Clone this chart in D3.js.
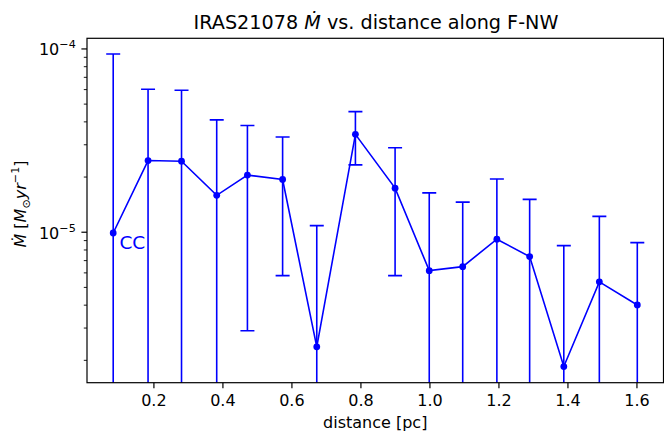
<!DOCTYPE html>
<html>
<head>
<meta charset="utf-8">
<script src="https://cdn.jsdelivr.net/npm/d3@7"></script>
<style>
  body { margin: 0; background: #fff; }
  svg { display: block; }
  text { font-family: "DejaVu Sans", sans-serif; fill: #000; }
</style>
</head>
<body>
<svg id="chart" width="664" height="432"></svg>
<script>
// Mass outflow rate along the F-NW filament
const distance = [0.082, 0.183, 0.280, 0.382, 0.471, 0.573, 0.672, 0.784,
                  0.899, 0.998, 1.095, 1.194, 1.289, 1.388, 1.491, 1.601];
const mdot = [9.9e-6, 2.46e-5, 2.44e-5, 1.59e-5, 2.05e-5, 1.94e-5, 2.37e-6, 3.42e-5,
              1.74e-5, 6.17e-6, 6.49e-6, 9.16e-6, 7.36e-6, 1.85e-6, 5.36e-6, 4.01e-6];
// upper / lower ends of the error bars (0 = lower end runs off the log axis)
const mdotUpper = [9.39e-5, 6.03e-5, 5.95e-5, 4.10e-5, 3.82e-5, 3.31e-5, 1.086e-5, 4.55e-5,
                   2.89e-5, 1.64e-5, 1.46e-5, 1.95e-5, 1.51e-5, 8.45e-6, 1.22e-5, 8.78e-6];
const mdotLower = [0, 0, 0, 0, 2.90e-6, 5.80e-6, 0, 2.33e-5,
                   5.80e-6, 0, 0, 0, 0, 0, 0, 0];
const xTicks = [0.2, 0.4, 0.6, 0.8, 1.0, 1.2, 1.4, 1.6];
const yMajorExp = [-5, -4];
const yLimits = [1.51e-6, 1.143e-4];
const labelText = "CC";
const labelPos = [0.1, 8.1e-6];

const color = "#0000ff";
const svg = d3.select("#chart");
const plot = { left: 87, right: 663.5, top: 38.3, bottom: 382.7 };
const fs = 16, fsSmall = 11.2, fsTitle = 19.2;
const majorLen = 5.6, minorLen = 3.2, tickPad = 5.6;

const xMin = d3.min(distance), xMax = d3.max(distance), pad = 0.05 * (xMax - xMin);
const x = d3.scaleLinear().domain([xMin - pad, xMax + pad]).range([plot.left, plot.right]);
const y = d3.scaleLog().domain(yLimits).range([plot.bottom, plot.top]);

svg.append("clipPath").attr("id", "plotclip")
  .append("rect")
  .attr("x", plot.left).attr("y", plot.top)
  .attr("width", plot.right - plot.left).attr("height", plot.bottom - plot.top);

const g = svg.append("g").attr("clip-path", "url(#plotclip)");
const pts = distance.map((d, i) => ({ d, v: mdot[i], hi: mdotUpper[i], lo: mdotLower[i] }));
const yLow = p => p.lo > 0 ? y(p.lo) : plot.bottom + 5;
const cap = 7;

// error bars
const eb = g.selectAll(".eb").data(pts).enter().append("g").attr("class", "eb")
  .attr("stroke", color).attr("stroke-width", 1.6).attr("fill", "none");
eb.append("line")
  .attr("x1", p => x(p.d)).attr("x2", p => x(p.d))
  .attr("y1", p => y(p.hi)).attr("y2", yLow);
eb.append("line")
  .attr("x1", p => x(p.d) - cap).attr("x2", p => x(p.d) + cap)
  .attr("y1", p => y(p.hi)).attr("y2", p => y(p.hi));
eb.filter(p => p.lo > 0).append("line")
  .attr("x1", p => x(p.d) - cap).attr("x2", p => x(p.d) + cap)
  .attr("y1", p => y(p.lo)).attr("y2", p => y(p.lo));

// connecting line and markers
g.append("path").datum(pts)
  .attr("fill", "none").attr("stroke", color).attr("stroke-width", 1.6)
  .attr("d", d3.line().x(p => x(p.d)).y(p => y(p.v)));
g.selectAll(".pt").data(pts).enter().append("circle")
  .attr("cx", p => x(p.d)).attr("cy", p => y(p.v)).attr("r", 3.4).attr("fill", color);

// annotation
svg.append("text").attr("x", x(labelPos[0])).attr("y", y(labelPos[1]))
  .style("font-size", "18.5px").style("fill", color).text(labelText);

// frame
svg.append("rect")
  .attr("x", plot.left).attr("y", plot.top)
  .attr("width", plot.right - plot.left).attr("height", plot.bottom - plot.top)
  .attr("fill", "none").attr("stroke", "#000").attr("stroke-width", 1.2);

// x axis
const xa = svg.append("g");
xTicks.forEach(t => {
  xa.append("line").attr("x1", x(t)).attr("x2", x(t))
    .attr("y1", plot.bottom).attr("y2", plot.bottom + majorLen)
    .attr("stroke", "#000").attr("stroke-width", 1.2);
  xa.append("text").attr("x", x(t)).attr("y", plot.bottom + majorLen + tickPad + 12.4)
    .attr("text-anchor", "middle").style("font-size", fs + "px").text(d3.format(".1f")(t));
});
svg.append("text").attr("x", (plot.left + plot.right) / 2).attr("y", 427.5)
  .attr("text-anchor", "middle").style("font-size", fs + "px").text("distance [pc]");

// y axis: major and minor log ticks
const ya = svg.append("g");
y.ticks().forEach(t => {
  const e = Math.log10(t);
  const major = Math.abs(e - Math.round(e)) < 1e-9;
  ya.append("line").attr("x1", plot.left).attr("x2", plot.left - (major ? majorLen : minorLen))
    .attr("y1", y(t)).attr("y2", y(t))
    .attr("stroke", "#000").attr("stroke-width", major ? 1.2 : 0.9);
});
yMajorExp.forEach(e => {
  const t = ya.append("text").attr("x", plot.left - majorLen - tickPad)
    .attr("y", y(Math.pow(10, e)) + 6.5)
    .attr("text-anchor", "end").style("font-size", fs + "px");
  t.append("tspan").text("10");
  t.append("tspan").attr("dy", -7).style("font-size", fsSmall + "px").text("\u2212" + Math.abs(e));
});

// y label: M-dot [M_sun yr^-1]
const yl = svg.append("text")
  .attr("transform", "translate(26,204) rotate(-90)")
  .attr("text-anchor", "middle").style("font-size", fs + "px");
yl.append("tspan").style("font-style", "italic").text("\u1E40");
yl.append("tspan").text(" [");
yl.append("tspan").style("font-style", "italic").text("M");
yl.append("tspan").attr("dy", 3.5).style("font-size", fsSmall + "px").text("\u2299");
yl.append("tspan").attr("dy", -3.5).style("font-style", "italic").text("yr");
yl.append("tspan").attr("dy", -7).style("font-size", fsSmall + "px").text("\u22121");
yl.append("tspan").attr("dy", 7).text("]");

// title
const title = svg.append("text").attr("x", 376).attr("y", 28.5)
  .attr("text-anchor", "middle").style("font-size", fsTitle + "px");
title.append("tspan").text("IRAS21078 ");
title.append("tspan").style("font-style", "italic").text("\u1E40");
title.append("tspan").text(" vs. distance along F-NW");
</script>
</body>
</html>
